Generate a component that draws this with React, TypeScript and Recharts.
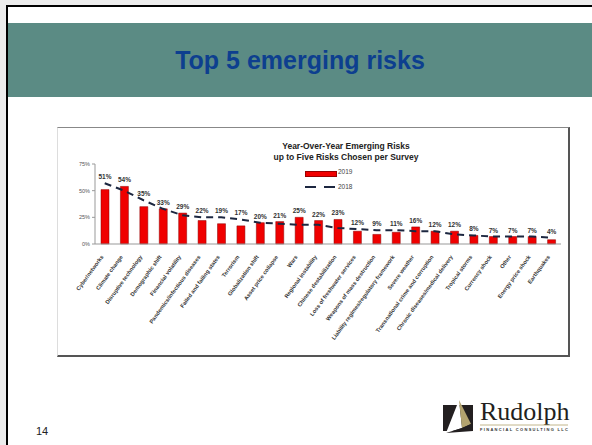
// @ts-nocheck
import React from 'react';
import { ComposedChart, Bar, Line, XAxis, YAxis, LabelList } from 'recharts';

const categories = [
  'Cyber/networks', 'Climate change', 'Disruptive technology', 'Demographic shift',
  'Financial volatility', 'Pandemics/infectious diseases', 'Failed and failing states',
  'Terrorism', 'Globalization shift', 'Asset price collapse', 'Wars', 'Regional instability',
  'Chinese destabilization', 'Loss of freshwater services', 'Weapons of mass destruction',
  'Liability regimes/regulatory framework', 'Severe weather', 'Transnational crime and corruption',
  'Chronic diseases/medical delivery', 'Tropical storms', 'Currency shock', 'Other',
  'Energy price shock', 'Earthquakes',
];
const values2019 = [51, 54, 35, 33, 29, 22, 19, 17, 20, 21, 25, 22, 23, 12, 9, 11, 16, 12, 12, 8, 7, 7, 7, 4];
const values2018 = [57, 50, 41, 33, 27, 25, 25, 23, 20, 19, 18, 18, 15, 14, 13, 13, 12, 12, 9, 8, 7, 7, 7, 6];
const yTicks = [0, 25, 50, 75];

const data = categories.map((c, i) => ({ category: c, v2019: values2019[i], v2018: values2018[i] }));

const RED = '#f00000';
const NAVY = '#1c2740';

const CategoryTick = ({ x, y, payload }: any) => (
  <g transform={`translate(${x - 1},${y + 5})`}>
    <text transform="rotate(-54)" textAnchor="end" fontSize={5.6} fontWeight="bold" fill="#333"
      fontFamily="Liberation Sans, Arial, sans-serif">
      {payload.value}
    </text>
  </g>
);

// label sits above whichever of the two series is higher
const TopLabel = ({ x, y, width, height, value, index }: any) => {
  const ppu = value ? height / value : 0;
  const other = values2018[index];
  const lift = other > value ? (other - value) * ppu : 0;
  return (
    <text x={x + width / 2} y={y - lift - 4} textAnchor="middle" fontSize={6.5} fontWeight="bold"
      fill="#333" fontFamily="Liberation Sans, Arial, sans-serif">
      {value}%
    </text>
  );
};

const Logo = () => (
  <svg width={140} height={48} style={{ position: 'absolute', left: 436, top: 397 }}>
    <rect x={7} y={8} width={30} height={26} fill="#231f20" />
    <polygon points="23,3 10,36 26,31" fill="#ffffff" />
    <polygon points="23,3 26,31 35,27" fill="#b3a36f" />
    <polygon points="10,36 26,31 35,27 37,34" fill="#231f20" />
    <text x={44} y={23} fontSize={26} fontFamily="Liberation Serif, Times New Roman, serif" fill="#231f20">
      Rudolph
    </text>
    <line x1={44} y1={28} x2={132} y2={28} stroke="#b3a36f" strokeWidth={0.8} />
    <text x={44} y={34} fontSize={4} fontWeight="bold" fill="#333" textLength={88} lengthAdjust="spacing"
      fontFamily="Liberation Sans, Arial, sans-serif">
      FINANCIAL CONSULTING LLC
    </text>
  </svg>
);

export default function App() {
  return (
    <div style={{ position: 'absolute', left: 0, top: 0, width: 592, height: 445, background: '#ffffff', overflow: 'hidden', fontFamily: 'Liberation Sans, Arial, sans-serif' }}>
      <div style={{ position: 'absolute', left: 0, top: 0, width: 592, height: 5, background: '#ececec' }} />
      <div style={{ position: 'absolute', left: 0, top: 0, width: 6, height: 445, background: '#ececec' }} />
      <div style={{ position: 'absolute', left: 6, top: 5, width: 586, height: 2, background: '#000' }} />
      <div style={{ position: 'absolute', left: 6, top: 5, width: 2, height: 440, background: '#000' }} />

      <div style={{ position: 'absolute', left: 8, top: 23, width: 584, height: 74, background: '#5b8b84',
        display: 'flex', alignItems: 'center', justifyContent: 'center' }}>
        <span style={{ color: '#0d3f8f', fontSize: 25, fontWeight: 'bold', fontFamily: 'Liberation Sans, Arial, sans-serif' }}>
          Top 5 emerging risks
        </span>
      </div>

      <div style={{ position: 'absolute', left: 57, top: 127, width: 510, height: 227, borderTop: '1px solid #888',
        borderRight: '2px solid #555', borderBottom: '2px solid #555', borderLeft: '1px solid #ddd', background: '#fff' }}>
        <div style={{ position: 'absolute', left: 0, top: 13, width: 576, textAlign: 'center', fontSize: 8.5,
          fontWeight: 'bold', color: '#222', lineHeight: '11px' }}>
          Year-Over-Year Emerging Risks<br />up to Five Risks Chosen per Survey
        </div>
        <div style={{ position: 'absolute', left: 247, top: 43, width: 30, height: 3.5, background: RED, border: '0.5px solid #900' }} />
        <div style={{ position: 'absolute', left: 280, top: 40, fontSize: 6.5, color: '#444' }}>2019</div>
        <div style={{ position: 'absolute', left: 247, top: 58, width: 30, height: 2, background: `linear-gradient(to right, ${NAVY} 0 11px, transparent 11px 19px, ${NAVY} 19px 30px)` }} />
        <div style={{ position: 'absolute', left: 280, top: 55, fontSize: 6.5, color: '#444' }}>2018</div>

        <ComposedChart width={510} height={227} data={data} margin={{ top: 36, right: 7, bottom: 0, left: 0 }}
          barCategoryGap={0} style={{ position: 'absolute', left: 0, top: 0 }}>
          <YAxis domain={[0, 75]} ticks={yTicks} tickFormatter={(v) => v + '%'} width={37}
            tick={{ fontSize: 5.5, fill: '#555' }} tickSize={3} axisLine={{ stroke: '#999' }}
            tickLine={{ stroke: '#999' }} interval={0} />
          <XAxis dataKey="category" height={111} interval={0} tick={<CategoryTick />}
            tickLine={false} axisLine={{ stroke: '#999' }} />
          <Bar dataKey="v2019" barSize={8} fill={RED} stroke="#8a0000" strokeWidth={0.5} isAnimationActive={false}>
            <LabelList dataKey="v2019" content={<TopLabel />} />
          </Bar>
          <Line dataKey="v2018" type="linear" stroke={NAVY} strokeWidth={2} strokeDasharray="7 5"
            dot={false} activeDot={false} isAnimationActive={false} />
        </ComposedChart>
      </div>

      <div style={{ position: 'absolute', left: 36, top: 425, fontSize: 11, color: '#222' }}>14</div>
      <Logo />
    </div>
  );
}
